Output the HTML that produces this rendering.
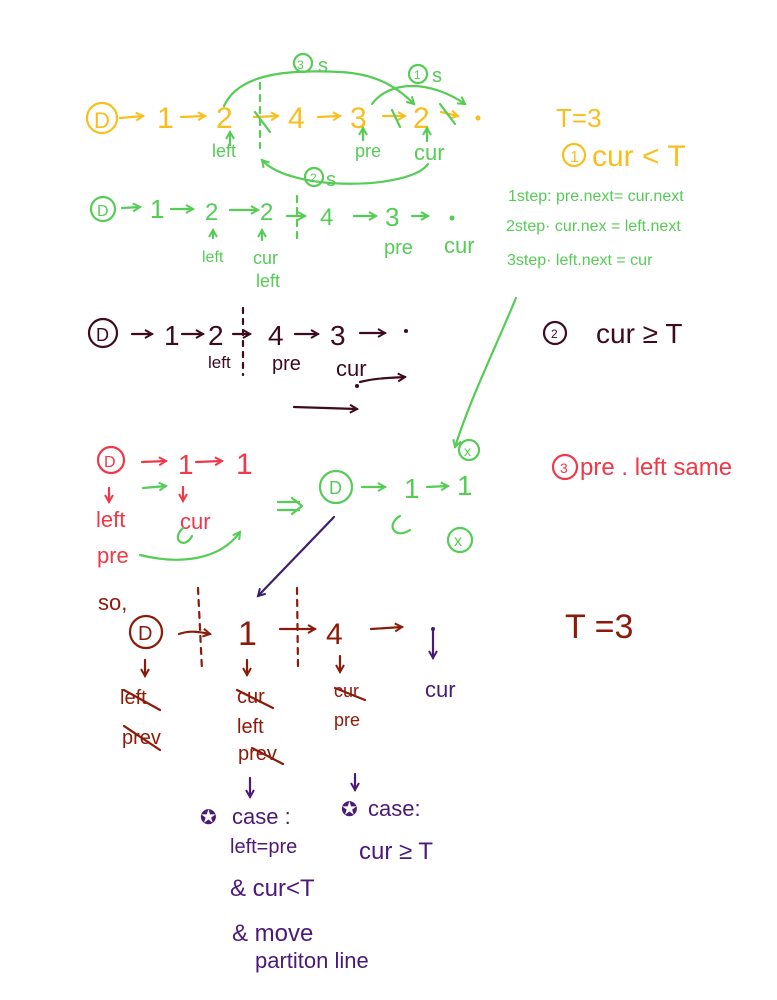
<!DOCTYPE html>
<html><head><meta charset="utf-8"><style>
html,body{margin:0;padding:0;background:#fff;width:777px;height:1000px;overflow:hidden}
svg{display:block}
text{font-family:"Liberation Sans",sans-serif}
</style></head><body>
<svg width="777" height="1000" viewBox="0 0 777 1000" xmlns="http://www.w3.org/2000/svg">
<defs>
<marker id="ah" markerWidth="10" markerHeight="10" refX="8" refY="5" orient="auto" markerUnits="userSpaceOnUse"><path d="M1,1 L8,5 L1,9" fill="none" stroke="context-stroke" stroke-width="2"/></marker>
</defs>
<g fill="none" stroke-linecap="round" stroke-width="2.2">
<g stroke="#f8bf1c" fill="none">
<circle cx="102" cy="118" r="15"/>
<path d="M120 118 L143 116" marker-end="url(#ah)"/>
<path d="M181 117 L205 116" marker-end="url(#ah)"/>
<path d="M254 117 L278 116" marker-end="url(#ah)"/>
<path d="M318 117 L340 116" marker-end="url(#ah)"/>
<path d="M383 116 L405 116" marker-end="url(#ah)"/>
<path d="M441 112 L458 116" marker-end="url(#ah)"/>
</g>
<g fill="#f8bf1c" font-size="30" stroke="none">
<text x="94" y="128" font-size="22">D</text>
<text x="157" y="128">1</text>
<text x="216" y="128">2</text>
<text x="288" y="128">4</text>
<text x="350" y="128">3</text>
<text x="413" y="128">2</text>
<circle cx="478" cy="118" r="2.5"/>
</g>
<g stroke="#55cc55">
<path d="M255 112 L270 132"/>
<path d="M392 110 L400 127"/>
<path d="M440 104 L455 124"/>
<path d="M260 83 L260 148" stroke-dasharray="6,6"/>
<path d="M224 106 C240 70 300 70 340 72 C380 74 400 90 414 104" marker-end="url(#ah)"/>
<path d="M372 104 C390 80 430 80 465 104" marker-end="url(#ah)"/>
<path d="M428 164 C410 190 290 192 262 160" marker-end="url(#ah)"/>
<circle cx="303" cy="63" r="9"/><circle cx="418" cy="74" r="9"/><circle cx="314" cy="177" r="9"/>
<path d="M230 145 L230 132" marker-end="url(#ah)"/>
<path d="M363 140 L363 128" marker-end="url(#ah)"/>
<path d="M427 141 L427 128" marker-end="url(#ah)"/>
<circle cx="103" cy="209" r="12"/>
<path d="M122 208 L140 207" marker-end="url(#ah)"/>
<path d="M171 209 L193 209" marker-end="url(#ah)"/>
<path d="M230 210 L258 210" marker-end="url(#ah)"/>
<path d="M287 216 L305 216" marker-end="url(#ah)"/>
<path d="M354 216 L376 216" marker-end="url(#ah)"/>
<path d="M412 216 L428 216" marker-end="url(#ah)"/>
<path d="M297 196 L297 240" stroke-dasharray="6,6"/>
<path d="M213 238 L213 230" marker-end="url(#ah)"/>
<path d="M262 240 L262 230" marker-end="url(#ah)"/>
</g>
<g fill="#55cc55" stroke="none">
<text x="297" y="69" font-size="12">3</text><text x="318" y="72" font-size="20">s</text>
<text x="414" y="79" font-size="12">1</text><text x="432" y="82" font-size="20">s</text>
<text x="310" y="182" font-size="12">2</text><text x="326" y="186" font-size="20">s</text>
<text x="212" y="157" font-size="18">left</text>
<text x="355" y="157" font-size="18">pre</text>
<text x="414" y="160" font-size="22">cur</text>
<text x="97" y="216" font-size="16">D</text>
<text x="150" y="218" font-size="26">1</text>
<text x="205" y="220" font-size="24">2</text>
<text x="260" y="220" font-size="24">2</text>
<text x="320" y="225" font-size="24">4</text>
<text x="385" y="226" font-size="26">3</text>
<circle cx="452" cy="218" r="2.5"/>
<text x="202" y="262" font-size="16">left</text>
<text x="253" y="264" font-size="18">cur</text>
<text x="256" y="287" font-size="18">left</text>
<text x="384" y="254" font-size="20">pre</text>
<text x="444" y="253" font-size="22">cur</text>
<text x="508" y="201" font-size="16">1step: pre.next= cur.next</text>
<text x="506" y="231" font-size="16">2step·  cur.nex =  left.next</text>
<text x="507" y="265" font-size="16">3step·  left.next = cur</text>
</g>
<g fill="#f8bf1c" stroke="none">
<text x="556" y="127" font-size="26">T=3</text>
<text x="570" y="162" font-size="16">1</text>
<text x="592" y="166" font-size="30">cur &lt; T</text>
</g>
<circle cx="574" cy="155" r="11" stroke="#f8bf1c"/>
<g stroke="#3d0a1f">
<circle cx="103" cy="333" r="14"/>
<path d="M132 334 L152 334" marker-end="url(#ah)"/>
<path d="M182 334 L203 334" marker-end="url(#ah)"/>
<path d="M233 334 L250 334" marker-end="url(#ah)"/>
<path d="M295 334 L318 334" marker-end="url(#ah)"/>
<path d="M360 333 L385 333" marker-end="url(#ah)"/>
<path d="M243 308 L243 375" stroke-dasharray="5,6"/>
<path d="M360 382 C375 378 390 378 405 377" marker-end="url(#ah)"/>
<path d="M294 407 L357 409" marker-end="url(#ah)"/>
<circle cx="555" cy="333" r="11"/>
</g>
<g fill="#3d0a1f" stroke="none">
<text x="96" y="341" font-size="18">D</text>
<text x="164" y="345" font-size="28">1</text>
<text x="208" y="345" font-size="28">2</text>
<text x="268" y="345" font-size="28">4</text>
<text x="330" y="345" font-size="28">3</text>
<circle cx="406" cy="331" r="2"/>
<text x="208" y="368" font-size="17">left</text>
<text x="272" y="370" font-size="20">pre</text>
<text x="336" y="376" font-size="22">cur</text>
<circle cx="357" cy="386" r="2"/>
<text x="551" y="338" font-size="12">2</text>
<text x="596" y="343" font-size="28">cur ≥ T</text>
</g>
<g stroke="#f03848">
<circle cx="111" cy="460" r="13"/>
<path d="M142 462 L166 461" marker-end="url(#ah)"/>
<path d="M196 462 L222 461" marker-end="url(#ah)"/>
<path d="M109 488 L109 502" marker-end="url(#ah)"/>
<path d="M183 487 L183 501" marker-end="url(#ah)"/>
<circle cx="565" cy="467" r="12"/>
</g>
<g fill="#f03848" stroke="none">
<text x="104" y="467" font-size="16">D</text>
<text x="178" y="474" font-size="28">1</text>
<text x="236" y="474" font-size="30">1</text>
<text x="96" y="527" font-size="22">left</text>
<text x="180" y="529" font-size="22">cur</text>
<text x="97" y="563" font-size="22">pre</text>
<text x="560" y="473" font-size="14">3</text>
<text x="580" y="475" font-size="24">pre . left same</text>
</g>
<g stroke="#55cc55">
<path d="M143 488 L166 486" marker-end="url(#ah)"/>
<path d="M183 528 C170 540 185 550 192 536"/>
<path d="M140 555 C180 565 220 560 240 532" marker-end="url(#ah)"/>
<path d="M278 502 L299 502"/><path d="M278 510 L299 510"/><path d="M292 498 L302 506 L292 514"/>
<circle cx="336" cy="487" r="16"/>
<path d="M362 487 L385 487" marker-end="url(#ah)"/>
<path d="M427 487 L448 486" marker-end="url(#ah)"/>
<path d="M400 516 C385 525 395 540 410 530"/>
<circle cx="469" cy="450" r="10"/>
<circle cx="460" cy="540" r="12"/>
<path d="M516 298 C490 360 470 400 455 447" marker-end="url(#ah)"/>
</g>
<g fill="#55cc55" stroke="none">
<text x="329" y="494" font-size="18">D</text>
<text x="404" y="498" font-size="28">1</text>
<text x="457" y="495" font-size="28">1</text>
<text x="464" y="456" font-size="14">x</text>
<text x="454" y="546" font-size="16">x</text>
</g>
<path d="M334 517 L258 596" stroke="#3a1f6e" marker-end="url(#ah)"/>
<g stroke="#8c1a0a">
<circle cx="146" cy="632" r="16"/>
<path d="M179 634 C190 630 200 632 210 634" marker-end="url(#ah)"/>
<path d="M280 629 L315 629" marker-end="url(#ah)"/>
<path d="M371 629 L402 627" marker-end="url(#ah)"/>
<path d="M198 588 L202 670" stroke-dasharray="6,6"/>
<path d="M297 588 L298 667" stroke-dasharray="6,6"/>
<path d="M145 660 L145 676" marker-end="url(#ah)"/>
<path d="M247 660 L247 675" marker-end="url(#ah)"/>
<path d="M340 656 L340 672" marker-end="url(#ah)"/>
<path d="M124 690 L160 710"/>
<path d="M124 726 L160 750"/>
<path d="M237 690 L273 708"/>
<path d="M252 748 L283 764"/>
<path d="M335 688 L365 700"/>
</g>
<g fill="#8c1a0a" stroke="none">
<text x="98" y="610" font-size="22">so,</text>
<text x="138" y="640" font-size="20">D</text>
<text x="238" y="645" font-size="34">1</text>
<text x="326" y="644" font-size="30">4</text>
<text x="120" y="704" font-size="20">left</text>
<text x="122" y="744" font-size="20">prev</text>
<text x="237" y="703" font-size="20">cur</text>
<text x="237" y="733" font-size="20">left</text>
<text x="238" y="760" font-size="20">prev</text>
<text x="334" y="697" font-size="18">cur</text>
<text x="334" y="726" font-size="18">pre</text>
<text x="565" y="638" font-size="34">T =3</text>
</g>
<g stroke="#4b1a78">
<path d="M433 628 L433 658" marker-end="url(#ah)"/>
<path d="M250 778 L250 797" marker-end="url(#ah)"/>
<path d="M355 774 L355 790" marker-end="url(#ah)"/>
</g>
<g fill="#4b1a78" stroke="none">
<circle cx="433" cy="629" r="2"/>
<text x="425" y="697" font-size="22">cur</text>
<text x="200" y="824" font-size="20">✪</text>
<text x="232" y="824" font-size="22">case :</text>
<text x="341" y="816" font-size="20">✪</text>
<text x="368" y="816" font-size="22">case:</text>
<text x="230" y="853" font-size="20">left=pre</text>
<text x="359" y="859" font-size="24">cur ≥ T</text>
<text x="230" y="896" font-size="24">&amp; cur&lt;T</text>
<text x="232" y="941" font-size="24">&amp; move</text>
<text x="255" y="968" font-size="22">partiton line</text>
</g>
</g>
</svg>
</body></html>
